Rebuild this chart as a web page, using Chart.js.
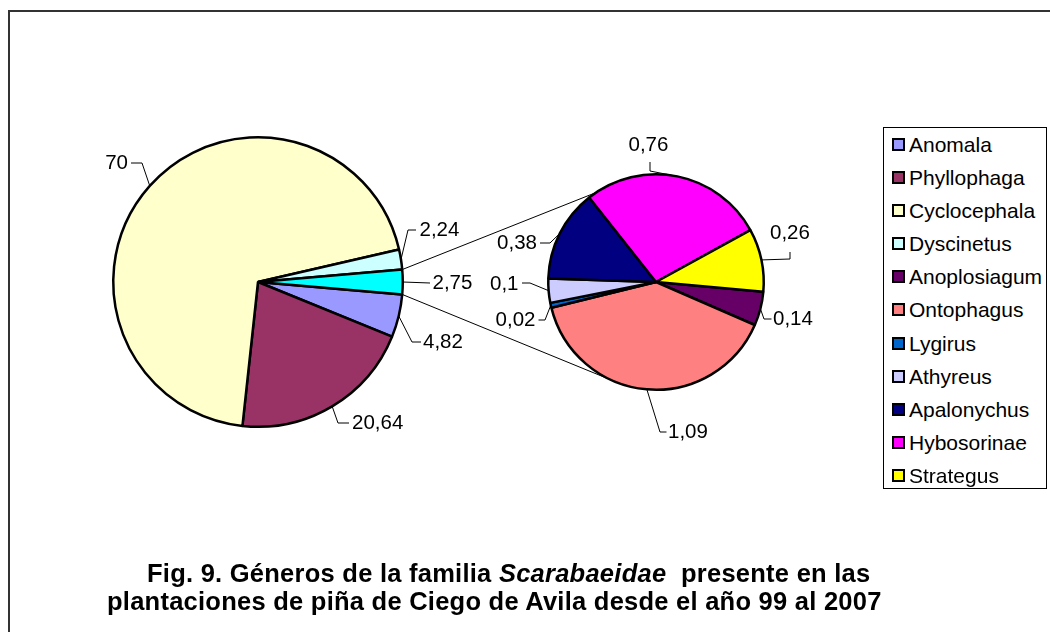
<!DOCTYPE html>
<html><head><meta charset="utf-8">
<script src="https://cdn.jsdelivr.net/npm/chart.js@4.4.0/dist/chart.umd.min.js"></script>
<style>
html,body{margin:0;padding:0;width:1050px;height:632px;overflow:hidden;background:#fff;}
#frame{position:absolute;left:8px;top:10px;width:1100px;height:700px;border-top:2px solid #333;border-left:2px solid #333;}
canvas{position:absolute;left:0;top:0;}
.t{position:absolute;font-family:"Liberation Sans",Arial,sans-serif;font-weight:bold;font-size:25.5px;line-height:28px;letter-spacing:0.25px;white-space:pre;color:#000;}
#legend{position:absolute;left:883px;top:127px;width:164px;height:362px;border:1px solid #000;box-sizing:border-box;font-family:"Liberation Sans",Arial,sans-serif;font-size:21px;color:#000;background:#fff;}
.row{position:relative;height:33.1px;line-height:33.1px;}
.sw{position:absolute;left:8px;top:10px;width:13px;height:13px;box-sizing:border-box;border:2px solid #000;}
.lt{position:absolute;left:25px;top:0;white-space:nowrap;}
</style></head>
<body>
<div id="frame"></div>
<canvas id="c1" width="1050" height="632"></canvas>
<canvas id="c2" width="1050" height="632"></canvas>
<div class="t" style="left:147px;top:559px">Fig. 9. Géneros de la familia <i>Scarabaeidae</i>  presente en las</div>
<div class="t" style="left:107px;top:587px">plantaciones de piña de Ciego de Avila desde el año 99 al 2007</div>
<div id="legend"></div>
<script>
// ---- data ----
const mainLabels = ['Anomala', 'Phyllophaga', 'Cyclocephala', 'Dyscinetus', 'Otros'];
const mainValues = [4.82, 20.64, 70, 2.24, 2.75];
const mainColors = ['#9999FF', '#993366', '#FFFFCC', '#CCFFFF', '#00FFFF'];
const subLabels = ['Anoplosiagum', 'Ontophagus', 'Lygirus', 'Athyreus', 'Apalonychus', 'Hybosorinae', 'Strategus'];
const subValues = [0.14, 1.09, 0.02, 0.1, 0.38, 0.76, 0.26];
const subColors = ['#660066', '#FF8080', '#0066CC', '#CCCCFF', '#000080', '#FF00FF', '#FFFF00'];

// ---- label layout (positions only) ----
const mainLabelLayout = [
  {align: 'left',  x: 423,   y: 342, path: [[412, 342], [421, 342]]},
  {align: 'left',  x: 352,   y: 423, path: [[338, 423], [349, 423]]},
  {align: 'right', x: 128,   y: 163, path: [[142, 163], [131, 163]]},
  {align: 'left',  x: 419.5, y: 230, path: [[408, 230], [416, 230]]},
  {align: 'left',  x: 432.5, y: 283, path: [[430, 283]]}
];
const subLabelLayout = [
  {align: 'left',  x: 773,   y: 319, path: [[764, 319], [771.5, 319]]},
  {align: 'left',  x: 668,   y: 432, path: [[660, 432], [666.5, 432]]},
  {align: 'right', x: 535.5, y: 320, path: [[545, 320], [538.5, 320]]},
  {align: 'right', x: 518.5, y: 284, path: [[530, 283], [522, 283]]},
  {align: 'right', x: 537,   y: 243, path: [[550, 243], [540, 243]]},
  {align: 'left',  x: 628.5, y: 145, path: [[650, 171], [650, 162]]},
  {align: 'left',  x: 770,   y: 233, path: [[790, 259], [790, 252]]}
];

const fmt = v => String(v).replace('.', ',');

function labelPlugin(layout) {
  return {
    id: 'pieLabels',
    afterDatasetsDraw(chart) {
      const ctx = chart.ctx;
      const meta = chart.getDatasetMeta(0);
      const vals = chart.data.datasets[0].data;
      ctx.save();
      ctx.strokeStyle = '#000';
      ctx.lineWidth = 1;
      ctx.fillStyle = '#000';
      ctx.font = '20.5px "Liberation Sans", Arial, sans-serif';
      ctx.textBaseline = 'middle';
      meta.data.forEach((arc, i) => {
        const L = layout[i];
        if (!L) return;
        const p = arc.getProps(['x', 'y', 'startAngle', 'endAngle', 'outerRadius'], true);
        const mid = (p.startAngle + p.endAngle) / 2;
        const sx = p.x + Math.cos(mid) * p.outerRadius;
        const sy = p.y + Math.sin(mid) * p.outerRadius;
        ctx.beginPath();
        ctx.moveTo(sx, sy);
        L.path.forEach(q => ctx.lineTo(q[0], q[1]));
        ctx.stroke();
        ctx.textAlign = L.align;
        ctx.fillText(fmt(vals[i]), L.x, L.y);
      });
      ctx.restore();
    }
  };
}

function pieConfig(labels, values, colors, rotation, padding, layout, extraPlugins) {
  return {
    type: 'pie',
    data: {
      labels: labels,
      datasets: [{
        data: values,
        backgroundColor: colors,
        borderColor: '#000',
        borderWidth: 2.5,
        hoverBorderWidth: 2.5
      }]
    },
    options: {
      responsive: false,
      animation: false,
      events: [],
      rotation: rotation,
      layout: {padding: padding},
      plugins: {legend: {display: false}, tooltip: {enabled: false}, title: {display: false}}
    },
    plugins: [labelPlugin(layout)].concat(extraPlugins || [])
  };
}

const mainTotal = mainValues.reduce((a, b) => a + b, 0);
const otherIndex = mainValues.length - 1;
const mainRotation = 90 + 180 * mainValues[otherIndex] / mainTotal;

const chart1 = new Chart(document.getElementById('c1'), pieConfig(
  mainLabels, mainValues, mainColors, mainRotation,
  {left: 112, right: 646, top: 136, bottom: 204}, mainLabelLayout));

const connectorPlugin = {
  id: 'connectors',
  beforeDatasetsDraw(chart) {
    const a = chart1.getDatasetMeta(0).data[otherIndex].getProps(['x', 'y', 'startAngle', 'endAngle', 'outerRadius'], true);
    const b = chart.getDatasetMeta(0).data[0].getProps(['x', 'y', 'outerRadius'], true);
    const upA = [a.x + Math.cos(a.startAngle) * a.outerRadius, a.y + Math.sin(a.startAngle) * a.outerRadius];
    const loA = [a.x + Math.cos(a.endAngle) * a.outerRadius, a.y + Math.sin(a.endAngle) * a.outerRadius];
    const angUp = 236 * Math.PI / 180, angLo = 110 * Math.PI / 180;
    const upB = [b.x + Math.cos(angUp) * b.outerRadius, b.y + Math.sin(angUp) * b.outerRadius];
    const loB = [b.x + Math.cos(angLo) * b.outerRadius, b.y + Math.sin(angLo) * b.outerRadius];
    const ctx = chart.ctx;
    ctx.save();
    ctx.strokeStyle = '#000';
    ctx.lineWidth = 1;
    ctx.beginPath();
    ctx.moveTo(upA[0], upA[1]); ctx.lineTo(upB[0], upB[1]);
    ctx.moveTo(loA[0], loA[1]); ctx.lineTo(loB[0], loB[1]);
    ctx.stroke();
    ctx.restore();
  }
};

const chart2 = new Chart(document.getElementById('c2'), pieConfig(
  subLabels, subValues, subColors, 95.2,
  {left: 547, right: 285, top: 173, bottom: 241}, subLabelLayout, [connectorPlugin]));

// ---- legend (HTML, from data arrays) ----
const legendLabels = mainLabels.slice(0, otherIndex).concat(subLabels);
const legendColors = mainColors.slice(0, otherIndex).concat(subColors);
const legendEl = document.getElementById('legend');
legendLabels.forEach((lab, i) => {
  const row = document.createElement('div');
  row.className = 'row';
  const sw = document.createElement('span');
  sw.className = 'sw';
  sw.style.background = legendColors[i];
  const tx = document.createElement('span');
  tx.className = 'lt';
  tx.textContent = lab;
  row.appendChild(sw);
  row.appendChild(tx);
  legendEl.appendChild(row);
});
</script>
</body></html>
